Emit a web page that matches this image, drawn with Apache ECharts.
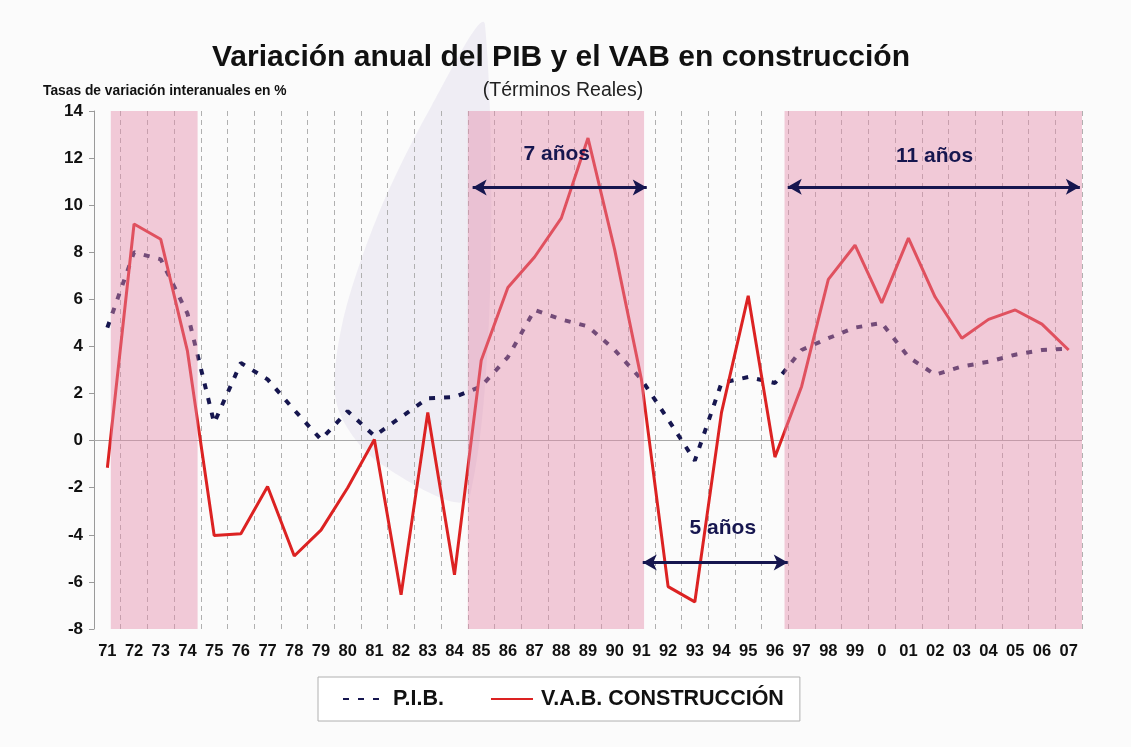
<!DOCTYPE html>
<html>
<head>
<meta charset="utf-8">
<script src="https://cdn.jsdelivr.net/npm/echarts@6/dist/echarts.min.js"></script>
<style>
  html, body { margin: 0; padding: 0; background: #fbfbfb; }
  #chart { width: 1131px; height: 747px; }
</style>
</head>
<body>
<div id="chart"></div>
<script>
  // años (eje X)
  const years = ["71", "72", "73", "74", "75", "76", "77", "78", "79", "80",
    "81", "82", "83", "84", "85", "86", "87", "88", "89", "90",
    "91", "92", "93", "94", "95", "96", "97", "98", "99", "0",
    "01", "02", "03", "04", "05", "06", "07"]

  // tasas de variación interanual en %
  const pib = [4.8, 8.0, 7.7, 5.4, 0.75, 3.3, 2.6, 1.3, 0.05,
    1.25, 0.2, 1.0, 1.8, 1.85, 2.3, 3.55, 5.55, 5.15, 4.85,
    3.85, 2.6, 0.9, -0.85, 2.45, 2.7, 2.45, 3.85, 4.35, 4.8,
    5.0, 3.55, 2.8, 3.15, 3.35, 3.65, 3.85, 3.9]
  const vab = [-1.15, 9.2, 8.55, 3.8, -4.03, -3.95, -1.95, -4.9, -3.8,
    -2.0, 0.05, -6.55, 1.2, -5.7, 3.4, 6.5, 7.8, 9.45, 12.85,
    8.1, 2.6, -6.2, -6.85, 1.2, 6.15, -0.7, 2.3, 6.85, 8.3,
    5.85, 8.6, 6.1, 4.35, 5.15, 5.55, 4.95, 3.85]

  const yTicks = { min: -8, max: 14, interval: 2 }

  // periodos sombreados, en unidades de banda del eje (0 = borde izq. de "71")
  const periods = [[0.63, 3.88], [14.0, 20.6], [25.86, 37]]
  // flechas: [desde, hasta, nivel %]
  const arrows = [[14.18, 20.7, 10.75], [25.98, 36.92, 10.78], [20.55, 25.98, -5.18]]
  // rótulos de las flechas: [x, y, texto]
  const arrowLabels = [[17.33, 12.15, "7 años"], [31.48, 12.1, "11 años"], [23.55, -3.7, "5 años"]]

  const navy = "#16164f"
  const red = "#dc2222"

  const chart = echarts.init(document.getElementById("chart"))
  const option = {
    backgroundColor: "#fbfbfb",
    animation: false,
    textStyle: { fontFamily: "Liberation Sans" },
    // marca de agua de fondo (logo difuminado)
    graphic: [
      {
        type: "polygon", z: -10, silent: true,
        shape: {
          points: [[485, 25], [432, 105], [378, 215], [342, 325], [337, 405], [378, 462], [470, 496]],
          smooth: 0.3,
        },
        style: { fill: "rgba(196,186,220,0.2)" },
      },
    ],
    title: [
      {
        text: "Variación anual del PIB y el VAB en construcción",
        left: 556, top: 38, textAlign: "center",
        textStyle: { fontSize: 30, fontWeight: "bold", color: "#111", fontFamily: "Liberation Sans" },
      },
      {
        text: "(Términos Reales)",
        left: 558, top: 76, textAlign: "center",
        textStyle: { fontSize: 19.5, fontWeight: "normal", color: "#222", fontFamily: "Liberation Sans" },
      },
      {
        text: "Tasas de variación interanuales en %",
        left: 43, top: 84, padding: 0,
        textStyle: { fontSize: 13.8, fontWeight: "bold", color: "#111", fontFamily: "Liberation Sans" },
      },
    ],
    legend: {
      left: 318, top: 677,
      padding: [11, 16, 11, 24],
      itemGap: 46,
      itemWidth: 42, itemHeight: 20,
      borderColor: "#b0b0b0", borderWidth: 1,
      backgroundColor: "#fff",
      itemStyle: { opacity: 0 },
      textStyle: { fontSize: 21.5, fontWeight: "bold", color: "#111", padding: [0, 0, 0, 3] },
      data: ["P.I.B.", "V.A.B. CONSTRUCCIÓN"],
    },
    grid: { left: 94, right: 49, top: 111, bottom: 118 },
    xAxis: [
      {
        type: "category",
        data: years,
        boundaryGap: true,
        axisLine: { show: false },
        axisTick: { show: false },
        axisLabel: { interval: 0, margin: 14, fontSize: 16.5, fontWeight: "bold", color: "#111" },
        splitLine: { show: true, interval: 0, lineStyle: { color: "#b0b0b0", type: [5, 4], width: 1 } },
      },
      { type: "value", min: 0, max: years.length, show: false },
    ],
    yAxis: {
      type: "value",
      min: yTicks.min, max: yTicks.max, interval: yTicks.interval,
      axisLine: { show: true, lineStyle: { color: "#9a9a9a" } },
      axisTick: { show: true, length: 5, lineStyle: { color: "#9a9a9a" } },
      axisLabel: { fontSize: 17, fontWeight: "bold", color: "#111", margin: 11 },
      splitLine: { show: false },
    },
    series: [
      {
        name: "P.I.B.",
        type: "line",
        data: pib,
        symbol: "none",
        z: 3,
        lineStyle: { color: navy, width: 4, type: [6, 9] },
        itemStyle: { color: navy },
        markLine: {
          silent: true, symbol: "none", z: 1,
          label: { show: false },
          lineStyle: { color: "#a8a8a8", width: 1, type: "solid" },
          data: [{ yAxis: 0 }],
        },
      },
      {
        name: "V.A.B. CONSTRUCCIÓN",
        type: "line",
        data: vab,
        symbol: "none",
        z: 3,
        lineStyle: { color: red, width: 3 },
        itemStyle: { color: red },
      },
      {
        name: "periodos",
        type: "line",
        xAxisIndex: 1,
        data: [],
        silent: true,
        markArea: {
          silent: true,
          z: 5,
          itemStyle: { color: "rgba(228,140,170,0.45)" },
          data: periods.map((p) => [{ xAxis: p[0] }, { xAxis: p[1] }]),
        },
        markLine: {
          silent: true,
          z: 8,
          symbol: ["arrow", "arrow"],
          symbolSize: [12, 14],
          label: { show: false },
          lineStyle: { color: navy, width: 3, type: "solid" },
          data: arrows.map((a) => [{ coord: [a[0], a[2]] }, { coord: [a[1], a[2]] }]),
        },
      },
      {
        name: "rotulos",
        type: "scatter",
        xAxisIndex: 1,
        symbolSize: 0,
        silent: true,
        z: 20,
        itemStyle: { opacity: 1 },
        data: arrowLabels.map((l) => ({ value: [l[0], l[1]], name: l[2] })),
        label: {
          show: true, position: "inside",
          formatter: (p) => p.name,
          fontSize: 21, fontWeight: "bold", color: navy, opacity: 1,
        },
      },
    ],
  }
  chart.setOption(option)
</script>
</body>
</html>
